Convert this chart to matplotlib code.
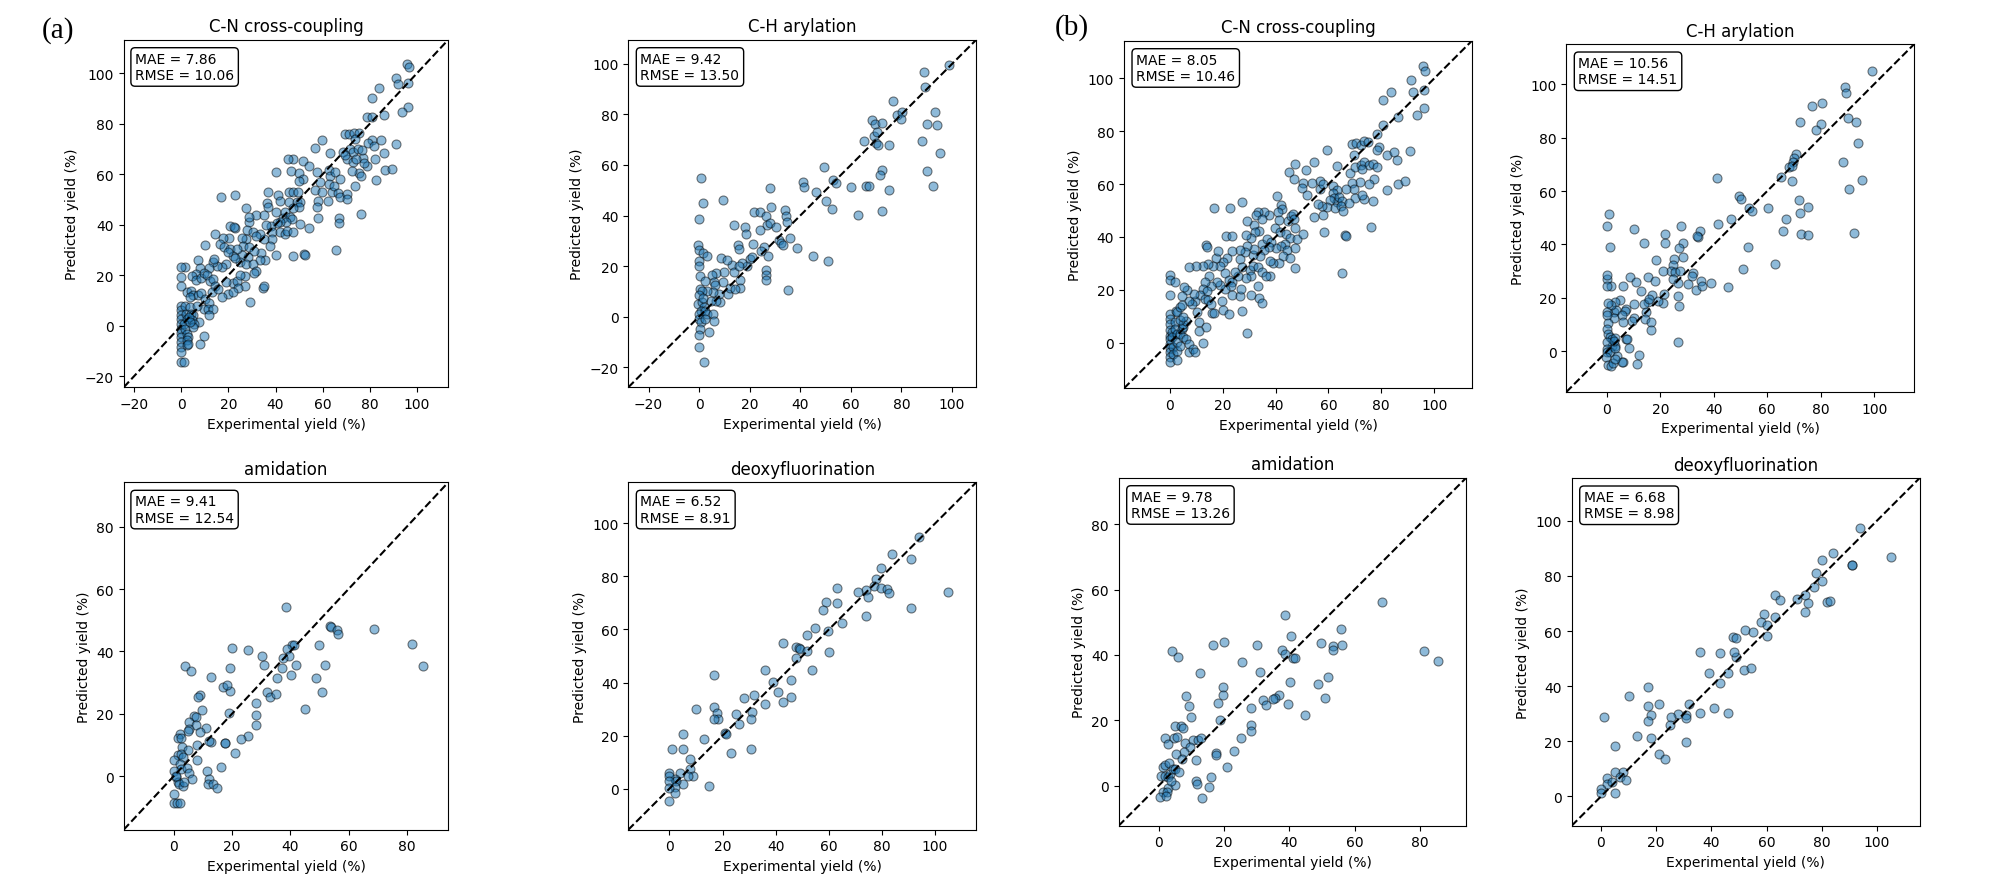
import matplotlib
matplotlib.use("Agg")
import matplotlib.pyplot as plt
import numpy as np

# ---------------- data ----------------
titles = ["C-N cross-coupling", "C-H arylation", "C-N cross-coupling", "C-H arylation",
          "amidation", "deoxyfluorination", "amidation", "deoxyfluorination"]
mae_vals = [7.86, 9.42, 8.05, 10.56, 9.41, 6.52, 9.78, 6.68]
rmse_vals = [10.06, 13.50, 10.46, 14.51, 12.54, 8.91, 13.26, 8.98]
axis_limits = [(-24.4, 113.3), (-28.0, 109.6), (-17.3, 114.3), (-15.2, 115.0),
               (-17.1, 94.2), (-15.5, 115.5), (-12.2, 94.2), (-10.6, 115.5)]

cn_a = [(95.7,103.8),(96.8,102.3),(91.3,98.1),(92.1,95.6),(96.2,96.0),(83.9,94.3),(80.8,90.3),(96.2,86.7),(93.5,84.8),(86.2,83.6),(78.7,82.8),(80.9,82.8),
(69.5,76.0),(71.2,76.0),(73.3,76.3),(75.4,76.5),(73.9,74.1),(59.6,73.5),(56.7,70.5),(63.1,68.6),
(80.9,73.4),(79.1,72.3),(81.9,71.2),(84.8,73.5),(91.1,72.0),(86.0,68.5),(82.3,66.0),(77.1,66.6),(78.7,63.3),(77.5,64.3),
(68.6,68.7),(71.6,70.1),(73.0,68.9),(75.1,69.9),(76.6,69.6),(70.2,66.2),(72.7,64.9),(74.1,66.2),(69.5,67.5),
(75.3,60.3),(76.3,59.4),(72.3,61.4),(73.6,55.4),(86.4,61.5),(89.3,62.0),(82.6,57.7),(76.1,44.3),
(47.3,66.2),(45.4,66.0),(51.6,65.2),(54.3,63.1),(40.3,61.0),(46.5,61.4),(50.1,60.5),(51.8,58.1),(49.9,57.4),(57.7,60.7),
(62.7,61.8),(63.1,59.4),(65.2,60.7),(58.9,56.9),(56.6,53.9),(59.7,52.8),(62.9,56.1),(63.8,52.8),(62.1,49.4),(58.2,49.4),(57.6,47.0),(58.2,42.7),(67.2,58.1),(65.0,55.2),(66.4,52.6),(67.5,51.0),(70.2,52.2),(70.2,50.2),(66.9,42.8),(67.1,40.7),(65.5,30.0),
(36.9,53.1),(40.9,51.8),(41.7,49.5),(36.2,48.6),(36.9,46.9),(45.8,52.8),(47.3,52.8),(49.4,53.1),(45.6,48.9),(49.0,49.1),(50.2,49.0),(49.8,46.9),(47.5,46.5),(50.2,40.2),(54.2,38.9),(47.5,27.5),(52.2,28.3),(52.6,28.1),
(40.2,44.9),(43.0,42.5),(44.0,44.9),(46.1,42.9),(47.0,42.3),(44.4,41.0),(41.9,41.2),(40.5,40.7),(38.1,39.4),(35.8,40.0),(38.7,37.0),(41.9,37.0),(44.0,36.3),(45.0,37.5),(47.5,37.3),(38.4,34.4),(35.0,34.4),(37.6,31.7),(40.2,28.1),(33.8,28.8),(35.6,26.1),(33.4,26.1),(34.5,14.9),(35.0,15.7),
(28.8,41.2),(31.9,43.9),(35.2,43.9),(28.6,43.1),(27.8,38.1),(30.6,37.0),(33.4,36.3),(31.9,35.4),(27.4,34.4),(25.8,34.8),(26.3,31.7),(28.8,31.1),(31.0,29.4),(28.2,27.4),(25.9,28.1),(24.9,25.4),(27.3,24.4),(30.6,24.5),(31.7,21.5),(31.0,20.9),(27.0,19.6),(27.0,15.7),(29.3,9.2),
(20.9,39.6),(23.0,38.7),(22.8,51.8),(16.8,51.1),(27.3,46.5),(22.4,39.2),
(20.2,34.9),(17.8,34.8),(16.4,32.4),(14.3,36.3),(18.2,31.1),(20.7,30.4),(23.8,30.4),(22.1,27.8),(22.8,27.0),(19.2,24.5),(17.1,23.2),(15.3,23.8),(13.6,25.2),(11.9,22.8),(14.0,26.5),(22.1,17.0),(23.8,17.8),(24.1,15.1),(19.2,17.3),(19.8,12.6),(22.1,13.3),(24.9,20.2),(19.7,29.1),
(9.9,32.1),(7.2,26.1),(8.1,22.8),(6.1,20.5),(4.4,19.6),(6.2,18.3),(8.6,18.8),(9.6,20.9),(11.0,19.9),(12.2,17.9),(13.6,18.6),(14.3,15.9),(13.0,13.3),(15.7,14.6),(17.1,11.3),(2.3,13.3),(4.0,13.6),(5.1,12.0),(7.2,12.0),(8.6,13.0),(10.0,10.7),(11.6,9.1),(9.6,6.7),(11.5,6.7),(13.6,6.7),(11.6,4.1),(1.7,23.4),(0.0,23.4),(0.1,19.1),(0.0,15.9),(7.6,1.4),(7.9,-7.1),(9.6,-4.1),
(0.0,8.0),(0.0,6.1),(0.0,4.1),(0.0,2.5),(0.0,0.8),(0.0,-1.2),(0.0,-2.9),(0.0,-4.5),(0.0,-6.5),(0.0,-8.4),(0.0,-10.4),(0.0,-14.4),(1.1,-14.4),(1.6,8.0),(2.0,4.7),(2.3,2.8),(1.3,0.8),(1.7,-1.2),(2.3,-3.2),(3.0,-4.5),(2.5,-5.8),(2.3,-7.8),(3.0,-7.1),(3.7,7.4),(4.0,4.7),(5.1,4.1),(4.4,2.1),(5.5,0.8),(4.8,-0.5),(3.1,3.4),(3.7,1.4),(3.8,11.3),(6.5,8.0)]

ch_a = [(99.0,99.7),(88.9,96.9),(89.3,90.8),(76.6,85.5),(78.1,79.7),(80.1,80.8),(79.8,78.4),(93.3,81.0),(90.1,76.4),(93.9,75.8),
(68.3,77.8),(69.5,76.4),(72.4,76.7),(69.1,71.5),(70.3,73.1),(70.0,68.7),(70.6,68.0),(65.2,69.5),(75.1,68.0),(88.3,69.6),(95.1,64.6),
(49.3,59.3),(72.3,58.2),(71.7,56.0),(90.2,57.8),(92.3,51.7),(53.0,54.1),(54.2,52.9),(59.9,51.2),(65.9,51.6),(67.0,51.6),(75.1,50.1),(72.4,41.9),(62.8,40.2),
(41.0,53.4),(41.5,51.2),(46.4,49.2),(50.1,45.8),(52.5,42.7),(45.1,23.8),(50.9,22.0),
(0.7,54.7),(1.4,44.9),(9.6,46.1),(0.1,38.5),
(27.9,50.7),(21.6,41.5),(24.0,41.5),(28.3,43.4),(26.5,39.9),(27.0,36.3),(28.2,37.0),(30.4,35.3),(24.0,34.1),(18.0,35.6),(18.4,32.7),(13.8,36.3),
(33.9,42.0),(34.5,39.8),(34.9,37.6),(35.8,31.1),(31.6,30.4),(32.4,29.3),(33.2,28.4),(38.7,27.3),
(21.5,28.7),(25.6,27.6),(27.4,23.8),(26.6,18.4),(26.3,16.6),(26.4,14.6),(35.2,10.4),
(24.6,26.0),(20.3,22.9),(20.9,23.6),(18.9,20.0),(17.1,21.4),(15.4,28.3),(15.6,26.8),(13.1,20.5),(13.8,17.5),(15.8,20.1),(16.3,14.6),(16.3,11.3),
(8.5,23.0),(11.0,22.5),(9.9,17.6),(9.3,13.7),(11.3,9.0),(12.2,11.2),(14.1,10.9),(6.8,17.1),(4.9,16.4),(5.9,13.8),(6.1,12.5),(7.7,8.8),(8.3,5.9),(6.7,6.3),(4.8,6.3),
(-0.6,28.2),(0.0,26.5),(1.4,25.2),(3.1,24.1),(-0.2,22.0),(0.0,19.9),(0.3,16.2),(2.4,14.1),(5.5,9.9),(3.0,10.2),
(0.2,10.9),(1.3,10.2),(0.0,8.5),(-0.5,4.9),(1.0,5.6),(1.8,3.6),(0.7,2.3),(0.0,1.0),(0.0,-1.0),(2.4,2.3),(3.1,1.0),(5.5,1.0),(6.0,-1.7),(0.9,-2.0),(0.2,-5.0),(3.9,-6.1),(0.0,-7.3),(0.0,-12.2),(2.0,-18.0),(2.2,-1.0),(1.6,7.3)]

cn_b = [(95.6,104.7),(96.6,102.9),(91.2,99.4),(92.1,95.0),(96.2,95.5),(83.7,95.0),(80.7,91.9),(93.6,86.0),(96.2,88.7),(86.3,85.4),
(80.7,82.3),(78.5,78.9),(79.3,74.0),(78.5,73.0),(69.0,75.3),(70.5,75.5),(72.5,74.8),(73.4,76.4),(74.8,76.0),
(59.4,72.8),(69.5,71.0),(82.1,71.0),(84.9,72.0),(90.9,72.5),(86.0,69.2),(54.6,68.2),(63.2,67.0),(47.4,67.5),(45.2,64.7),(46.8,61.9),(51.6,65.4),
(56.9,61.3),(50.4,60.4),(53.8,60.3),(50.0,58.4),(51.8,56.0),(56.7,58.0),(57.9,60.2),
(68.2,64.4),(70.1,66.3),(72.3,67.3),(73.5,68.2),(75.2,67.3),(76.7,67.8),(72.6,65.7),(78.5,66.3),(77.3,61.9),(75.2,60.0),(72.0,60.7),(68.9,60.3),(69.8,58.1),(66.7,58.1),(70.1,54.7),(73.3,54.4),(72.6,55.9),(76.7,53.7),(82.3,57.8),(86.3,60.0),(89.0,61.0),
(61.9,59.3),(63.2,57.9),(61.9,56.5),(62.1,54.6),(63.4,53.3),(64.1,55.0),(65.1,53.7),(60.7,54.0),(59.6,51.2),(57.5,51.8),(58.1,48.3),(55.9,52.5),(54.4,47.4),(62.5,50.8),(64.7,51.8),(67.6,52.8),(65.7,49.9),(58.3,41.7),(66.1,40.7),(66.6,40.5),(65.2,26.2),(76.2,43.6),
(40.4,55.6),(42.0,52.1),(42.4,50.6),(40.9,49.3),(44.9,46.2),(45.8,47.8),(46.5,48.7),(46.8,46.8),(39.8,43.3),(41.7,41.7),(41.4,46.4),(43.9,41.0),(45.3,39.7),(48.0,39.2),(50.3,41.1),(47.2,43.3),(43.6,37.3),(42.0,36.7),(40.0,35.7),(44.4,35.2),(43.0,32.9),(45.3,31.9),(47.5,35.7),(47.5,28.2),(41.4,30.1),(39.2,30.0),(38.0,30.8),
(37.5,48.3),(35.7,49.3),(33.4,49.3),(32.7,48.4),(34.8,46.8),(31.7,44.5),(29.3,46.2),(27.2,53.1),(22.6,50.9),(16.8,50.9),(21.2,40.5),(23.5,40.5),
(33.8,42.4),(32.4,42.0),(30.9,39.5),(28.9,40.7),(34.7,37.3),(36.7,39.2),(38.3,38.2),(37.7,36.1),(35.7,35.2),(34.2,32.9),(31.4,33.3),(31.7,35.4),(29.1,36.7),(28.5,34.4),(26.4,35.2),(26.6,31.7),(27.4,28.5),(30.4,27.6),(31.3,29.1),(33.5,28.5),(34.8,26.6),(38.0,25.1),(36.3,25.1),(30.6,25.3),(28.8,24.6),(25.9,25.3),(24.7,26.6),
(23.7,34.8),(21.6,32.0),(20.3,30.4),(19.0,29.1),(17.5,31.9),(16.5,29.1),(14.6,29.8),(12.5,29.1),(10.0,29.1),(7.3,28.8),(13.7,37.1),(13.9,36.1),(18.2,34.6),(20.9,26.4),(22.3,23.8),(23.5,22.8),(23.1,21.3),(20.9,20.3),(19.0,21.8),(17.7,22.8),(14.9,25.1),(15.6,21.6),(13.4,23.1),(12.5,20.3),(14.0,19.5),(11.5,18.0),(13.5,16.5),(14.6,16.3),(15.5,14.6),(16.1,11.2),(16.8,11.2),(19.7,15.6),(20.3,12.5),(22.3,10.8),(23.5,18.0),(26.6,17.8),(27.2,12.1),(27.0,20.3),(30.6,18.0),(33.9,16.8),(34.7,14.9),(33.5,21.6),(29.3,3.7),
(11.2,7.7),(13.6,5.8),(11.2,4.5),(12.5,0.0),(10.2,11.5),(9.6,15.9),(8.3,14.6),(7.1,15.6),(9.2,18.4),(6.4,19.9),(5.4,20.9),(4.7,17.8),
(0.0,25.7),(0.0,23.7),(1.8,22.8),(0.0,18.0),(0.0,10.8),(0.0,9.0),(0.0,7.1),(0.0,4.9),(0.0,2.6),(0.0,1.4),(0.0,-0.5),(0.0,-2.1),(0.0,-3.7),(0.0,-5.5),(0.0,-7.4),(0.8,3.9),(1.0,2.0),(1.1,-1.8),(1.4,-4.3),(2.4,12.1),(2.6,11.5),(2.1,7.9),(2.0,5.2),(2.6,3.3),(2.9,0.1),(2.6,-3.0),(2.6,-6.6),(3.9,3.3),(3.9,-1.1),(4.5,5.2),(5.2,5.8),(4.9,2.0),(6.2,1.4),(7.3,-0.5),(7.1,-3.7),(8.7,-2.4),(9.6,-3.4),(4.9,7.1),(6.2,8.3),(3.9,8.7),(5.2,9.6),(3.7,13.4),(4.5,14.2)]

ch_b = [(99.1,105.0),(89.0,98.9),(89.4,96.5),(76.8,91.9),(80.3,92.8),(72.4,85.9),(80.0,84.9),(78.3,82.9),(90.1,87.4),(93.3,85.9),(93.9,77.9),
(70.6,73.9),(70.0,72.2),(69.5,70.7),(68.2,68.8),(69.1,69.5),(65.3,65.3),(69.2,63.7),(88.3,70.9),(95.3,64.3),(90.4,60.6),(92.4,44.3),
(41.0,64.7),(49.4,58.0),(50.2,56.9),(53.2,53.6),(54.4,52.5),(60.1,53.6),(71.8,56.5),(75.2,54.2),(72.4,51.6),(67.0,49.5),(65.8,45.1),(72.7,43.9),(75.2,43.4),
(46.5,49.4),(41.5,47.6),(52.6,38.9),(51.0,30.7),(62.8,32.7),(45.4,24.2),(34.9,44.9),(34.2,42.9),(33.8,43.0),
(28.4,40.4),(26.9,38.7),(28.4,35.4),(27.9,47.0),(25.1,34.5),(24.6,32.3),(23.8,30.2),(25.4,29.6),(27.4,29.9),(24.9,27.1),(26.6,25.6),(26.6,20.8),(26.9,17.1),(26.6,3.6),
(21.6,44.1),(21.6,40.4),(14.0,40.4),(10.1,45.8),(18.5,34.2),(21.0,30.2),(32.2,29.3),(31.8,28.3),(30.4,25.2),(33.2,23.1),(35.3,26.4),(35.7,24.3),(38.9,25.4),
(8.8,27.7),(11.0,26.1),(15.2,27.7),(17.9,26.3),(5.9,24.3),(12.6,22.7),(16.9,21.2),(21.4,21.3),(21.1,18.1),(19.2,18.8),(15.2,18.6),(13.9,17.7),(15.7,19.6),(14.6,14.6),(14.2,12.1),(16.6,11.1),(16.4,8.0),(10.3,17.6),(10.3,12.5),(9.5,11.5),(7.2,15.8),(6.7,15.0),(7.1,4.6),(7.5,4.6),(8.4,1.2),(12.1,-1.4),(11.1,-4.6),(5.9,-3.9),
(5.0,19.3),(3.1,18.6),(2.7,14.6),(3.4,15.5),(2.5,12.3),(5.7,13.7),(5.9,11.1),(1.5,17.5),(0.5,18.0),(1.4,24.6),(0.2,27.1),(0.0,28.6),(-0.1,24.6),(1.1,39.2),(0.1,47.0),(0.9,51.5),(0.1,14.6),(-0.1,13.6),(0.5,10.8),(0.0,8.4),(0.5,6.5),(1.1,5.2),(2.0,4.6),(3.0,4.9),(1.9,2.1),(3.0,2.1),(0.0,3.4),(0.0,0.9),(0.2,-0.1),(1.1,-0.4),(-0.4,-2.0),(3.9,-1.6),(5.7,-4.1),(0.5,-5.1),(1.4,-5.4),(2.1,-4.5),(3.0,-2.9),(3.1,1.1),(2.6,4.0)]

am_a = [(38.6,54.2),(53.8,48.1),(54.0,47.9),(56.0,46.9),(56.3,45.5),(68.6,47.1),(81.6,42.3),(85.6,35.3),
(49.7,42.0),(51.8,35.7),(48.8,31.6),(51.0,26.9),(45.0,21.5),
(40.5,42.0),(41.3,42.0),(38.8,40.7),(39.6,38.6),(37.6,37.9),(37.2,34.7),(42.0,35.7),(40.2,32.4),(35.6,31.5),
(30.2,38.6),(31.1,35.6),(31.9,26.9),(33.0,25.3),(35.1,26.3),
(19.9,41.0),(25.4,40.6),(19.3,34.7),(19.4,27.4),(18.9,20.2),(16.8,28.6),(18.2,29.2),(12.7,31.7),
(28.3,23.4),(28.3,19.7),(28.4,16.3),(25.4,13.0),(23.2,11.8),(21.1,7.4),
(17.7,10.6),(17.5,10.6),(12.9,10.9),(12.2,11.2),(16.1,2.9),(11.6,1.6),(12.0,-0.9),(11.8,-2.5),(13.4,-2.5),(15.0,-3.7),
(3.9,35.4),(5.9,33.7),(7.0,19.4),(7.7,18.9),(5.2,17.3),(7.7,16.4),(5.2,15.1),(4.8,14.5),(9.2,26.1),(8.4,25.5),(9.9,21.3),(11.0,15.4),(9.2,14.1),
(2.2,13.5),(1.5,12.3),(2.7,12.2),(2.9,9.5),(4.8,8.5),(7.9,10.0),(8.0,5.3),(1.4,6.8),(2.7,7.1),(0.2,5.3),(3.4,6.2),(2.3,3.9),(2.7,2.3),(4.7,2.6),(5.2,1.0),(6.3,-0.9),(0.1,1.6),(1.0,-0.3),(1.6,-1.7),(1.8,-2.6),(3.1,-3.0),(3.5,-1.7),(0.3,-5.8),(0.0,-8.5),(1.1,-8.5),(2.3,-8.5),(0.8,0.2)]

df_a = [(93.9,94.7),(83.9,88.3),(90.8,86.5),(79.8,83.0),(77.9,79.2),(77.0,76.5),(79.8,75.5),(81.8,75.2),(82.8,73.6),(73.8,75.0),(70.9,74.1),(74.8,72.3),(62.9,75.5),(62.9,69.8),(104.8,74.0),(90.8,68.1),(73.9,65.0),
(58.8,70.3),(57.8,67.4),(64.9,62.5),(59.8,59.6),(54.8,60.6),(51.8,57.9),(60.0,51.4),
(42.9,55.0),(47.6,53.5),(48.6,53.2),(49.2,52.8),(51.8,51.7),(47.7,49.3),(53.8,44.7),
(35.9,44.7),(38.8,40.1),(45.9,40.9),(40.9,36.6),(42.8,32.7),(45.9,34.6),(35.9,31.8),
(32.0,35.3),(27.9,34.0),(31.0,28.8),(30.8,26.3),(30.7,15.1),
(16.7,42.9),(16.9,30.8),(18.0,28.4),(18.1,26.2),(16.7,26.4),(25.0,28.3),(26.0,24.5),
(9.9,29.9),(20.8,20.8),(21.1,20.5),(12.9,18.6),(23.0,13.3),
(5.0,20.4),(0.9,14.8),(5.0,15.1),(7.9,11.3),(7.9,7.3),(8.9,4.8),(6.9,4.8),(4.0,5.7),(5.1,1.9),(1.9,3.8),(2.6,2.9),(2.0,0.6),(1.9,-1.6),(0.0,5.7),(0.0,4.8),(0.0,2.9),(0.0,0.3),(0.0,-4.8),(14.9,0.8)]

am_b = [(68.4,56.2),(38.6,52.3),(55.8,48.0),(40.4,45.8),(49.6,43.6),(19.9,44.0),(16.7,43.2),(30.2,42.9),(53.5,42.6),(56.1,42.9),(53.5,41.5),(37.8,41.5),(38.8,40.2),(41.3,39.2),(41.9,39.2),
(81.4,41.1),(85.6,38.2),(4.0,41.1),(6.0,39.3),
(25.4,37.9),(31.2,34.9),(12.7,34.6),(40.1,31.7),(51.8,33.3),(48.7,31.2),
(19.6,30.3),(19.6,27.7),(8.3,27.4),(9.3,24.5),(10.0,20.9),(37.0,27.8),(35.7,26.9),(35.0,26.5),(31.9,26.2),(32.9,24.6),(39.5,24.9),(51.1,26.7),(44.9,21.6),
(18.1,25.2),(18.8,20.1),(28.3,23.7),(28.3,18.6),(28.3,16.7),
(4.9,18.3),(7.0,18.4),(7.6,17.6),(2.1,14.5),(4.8,14.6),(5.5,15.0),(2.9,12.7),(8.1,13.0),(10.6,14.0),(12.1,13.9),(13.0,14.6),(9.6,11.9),(7.7,10.2),(5.4,9.6),(7.2,8.2),(11.5,7.9),
(17.6,10.0),(17.6,9.4),(23.2,10.7),(25.3,14.6),(21.0,5.6),
(16.0,2.7),(11.5,1.4),(11.8,0.6),(15.5,-0.4),(13.4,-3.7),
(1.3,5.6),(2.1,6.3),(3.2,6.9),(0.6,2.9),(2.1,2.9),(2.9,2.6),(3.4,3.6),(4.4,5.1),(4.9,5.1),(6.2,4.3),(2.9,-0.6),(1.5,-1.8),(2.7,-1.8),(0.3,-3.3),(2.3,-3.1),(5.0,0.2),(3.9,1.5)]

df_b = [(94.0,97.5),(105.0,86.8),(84.1,88.4),(80.1,85.7),(90.9,84.1),(91.1,83.8),
(77.9,80.9),(80.1,78.1),(77.1,76.1),(73.9,72.9),(71.0,71.5),(75.0,70.3),(81.9,70.7),(83.1,70.8),(74.0,66.9),(63.0,73.2),(65.0,71.3),
(59.2,66.1),(63.2,65.1),(58.0,63.4),(60.1,62.2),(60.0,58.1),(52.1,60.3),(55.1,59.7),(47.8,58.0),(49.0,57.4),(49.0,50.6),(48.1,52.5),(43.1,52.2),(36.0,52.3),(51.9,45.8),(54.2,46.6),
(39.1,44.7),(46.0,44.6),(43.0,41.2),(40.9,32.1),(36.0,30.2),(46.0,30.4),(31.9,33.7),(30.9,29.6),(30.9,28.3),(27.8,29.8),(25.4,29.0),(25.0,25.8),(30.9,19.9),
(17.0,39.7),(16.9,32.9),(18.1,29.5),(21.0,33.5),(17.0,27.4),(18.1,21.3),(21.0,15.5),(23.1,13.5),(13.0,22.0),(10.1,36.6),(1.0,28.9),
(5.2,18.2),(5.2,8.7),(8.0,8.7),(7.0,6.9),(9.2,6.0),(2.2,6.6),(2.2,4.5),(4.0,5.1),(5.2,1.1),(0.0,2.7),(0.0,1.4)]

datasets = [cn_a, ch_a, cn_b, ch_b, am_a, df_a, am_b, df_b]

# ---------------- layout ----------------
W, H = 2009, 879
# axes boxes in pixels: left, top, right, bottom
boxes_px = [(123.7, 40.7, 448.3, 388.3), (628.3, 40.7, 976.3, 388.3),
            (1124.0, 41.7, 1472.0, 389.3), (1566.3, 45.0, 1914.3, 393.0),
            (123.7, 483.3, 448.3, 830.7), (628.3, 483.3, 976.3, 830.7),
            (1118.7, 478.7, 1466.3, 826.7), (1571.7, 479.0, 1919.7, 826.7)]

fig = plt.figure(figsize=(W / 100, H / 100), dpi=100)

for i in range(8):
    l, t, r, b = boxes_px[i]
    ax = fig.add_axes([l / W, 1 - b / H, (r - l) / W, (b - t) / H])
    pts = np.array(datasets[i])
    ax.scatter(pts[:, 0], pts[:, 1], s=42, c="#1f77b4", alpha=0.5,
               edgecolors="k", linewidths=0.8)
    lo, hi = axis_limits[i]
    ax.plot([lo, hi], [lo, hi], "k--", lw=1.5)
    ax.set_xlim(lo, hi)
    ax.set_ylim(lo, hi)
    ax.set_title(titles[i], fontsize=12)
    ax.set_xlabel("Experimental yield (%)", fontsize=10)
    ax.set_ylabel("Predicted yield (%)", fontsize=10)
    ax.tick_params(labelsize=10)
    ax.text(0.035, 0.965, f"MAE = {mae_vals[i]:.2f}\nRMSE = {rmse_vals[i]:.2f}",
            transform=ax.transAxes, ha="left", va="top", fontsize=10,
            bbox=dict(boxstyle="round,pad=0.3", facecolor="white", edgecolor="black"))

fig.text(42 / W, 1 - 30.5 / H, "(a)", fontsize=21, family="Liberation Serif",
         ha="left", va="center")
fig.text(1055 / W, 1 - 27.5 / H, "(b)", fontsize=21, family="Liberation Serif",
         ha="left", va="center")

fig.savefig("out.png", dpi=100)
